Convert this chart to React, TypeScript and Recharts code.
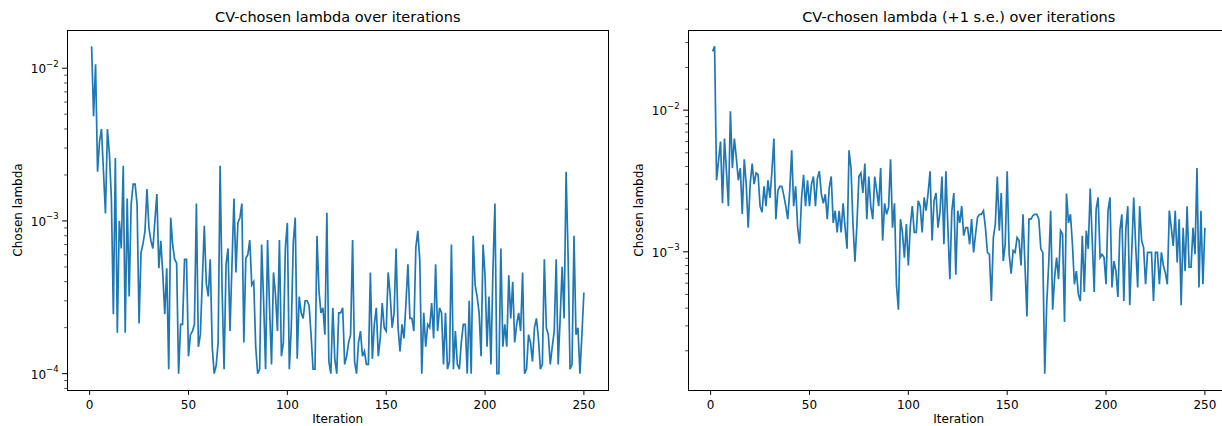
import React from 'react';
import { LineChart, Line, XAxis, YAxis } from 'recharts';

// CV-chosen lambda (minimum CV error), iterations 1..250
const lambdaMin: number[] = [
  0.0139, 0.00485, 0.0106, 0.0021, 0.0033, 0.004, 0.0021, 0.00112, 0.004, 0.00275,
  0.0014, 0.000245, 0.00258, 0.000185, 0.001, 0.00066, 0.0023, 0.000185, 0.0014, 0.00032,
  0.00128, 0.00174, 0.00174, 0.00128, 0.000213, 0.00062, 0.00071, 0.00086, 0.00162, 0.0009,
  0.00074, 0.00066, 0.001, 0.0015, 0.00049, 0.00074, 0.00045, 0.000245, 0.00049, 0.000107,
  0.00105, 0.0007, 0.00056, 0.00053, 0.0001, 0.00021, 0.00021, 0.00056, 0.00056, 0.00013,
  0.00018,
  0.00019, 0.00021, 0.0013, 0.00015, 0.00018, 0.00041, 0.00093, 0.00039, 0.00032, 0.00056,
  0.00015, 0.0001, 0.000113, 0.00016, 0.0023, 0.00035, 0.000107, 0.00052, 0.00066, 0.00019,
  0.00052, 0.0014, 0.00046, 0.00097, 0.00105, 0.0013, 0.00016, 0.00057, 0.0006, 0.00075,
  0.00038, 0.0004, 0.00015, 0.0001, 0.000107, 0.0007, 0.0003, 0.000107, 0.00075, 0.00027,
  0.000115, 0.00046, 0.00033, 0.00019, 0.00075, 0.00013, 0.00016, 0.00067, 0.00097, 0.000107,
  0.0002, 0.00072, 0.00105,
  0.000125, 0.00032, 0.00025, 0.00023, 0.0003, 0.0003, 0.00028, 0.00018, 0.000107, 0.000107,
  0.0008, 0.00035, 0.00025, 0.00027, 0.00018, 0.00113, 0.00012, 0.0001, 0.00027, 0.000125,
  0.0001, 0.00025, 0.00025, 0.00027, 0.000115, 0.00013, 0.00016, 0.00018, 0.00075, 0.00012,
  0.0001, 0.00016, 0.00019, 0.00013, 0.00014, 0.000115, 0.000115, 0.00046, 0.000125, 0.00021,
  0.00027, 0.00013, 0.00017, 0.00029, 0.0002, 0.00019, 0.00046, 0.00033, 0.0002, 0.00025,
  0.00066, 0.0002, 0.00014,
  0.00021, 0.00017, 0.00029, 0.00052, 0.00023, 0.00023, 0.00019, 0.00067, 0.00086, 0.00055,
  0.0001, 0.00025, 0.00015, 0.00021, 0.0002, 0.00029, 0.00017, 0.00052, 0.00019, 0.00027,
  0.00025, 0.000115, 0.00025, 0.000107, 0.00012, 0.0007, 0.000107, 0.00019, 0.000115, 0.000107,
  0.00016, 0.00021, 0.00021, 0.0001, 0.0003, 0.0001, 0.0008, 0.00038, 0.00032, 0.00025,
  0.00013, 0.0007, 0.00044, 0.00015, 0.00032, 0.000115, 0.00048, 0.0013, 0.0001, 0.0001,
  0.00066, 0.00015, 0.00021,
  0.00015, 0.00044, 0.00023, 0.0004, 0.00016, 0.00021, 0.00025, 0.00019, 0.00046, 0.0001,
  0.000107, 0.00018, 0.00016, 0.00012, 0.0002, 0.00023, 0.00017, 0.000107, 0.000115, 0.00056,
  0.0002, 0.00018, 0.000115, 0.00015, 0.00019, 0.00056, 0.000115, 0.00023, 0.0005, 0.00023,
  0.0021, 0.0006, 0.000107, 0.000115, 0.0008, 0.00018, 0.0002, 0.0001, 0.00018, 0.00034,
];

// CV-chosen lambda (+1 s.e. rule), iterations 1..250
const lambda1se: number[] = [
  0.026, 0.0282, 0.0032, 0.0044, 0.006, 0.0022, 0.0063, 0.0037, 0.0021, 0.0098,
  0.0039, 0.0063, 0.0046, 0.0032, 0.0039, 0.00185, 0.0045, 0.003, 0.00148, 0.003,
  0.0042, 0.003, 0.0036, 0.0035, 0.0021, 0.0019, 0.0029, 0.0021, 0.0032, 0.0024,
  0.0037, 0.0063, 0.0017, 0.0027, 0.0029, 0.0029, 0.0025, 0.0021, 0.0017, 0.0027,
  0.0052, 0.0021, 0.0029, 0.0015, 0.00114, 0.0024, 0.0035, 0.0021, 0.0032, 0.0021,
  0.003, 0.0034, 0.0021, 0.0033, 0.0037, 0.00255, 0.0022, 0.00255, 0.0017, 0.00284,
  0.0034, 0.0016, 0.00195, 0.00137, 0.00195, 0.00137, 0.0022, 0.00148, 0.00105, 0.0052,
  0.0039, 0.00157, 0.00085, 0.00157, 0.0034, 0.0036, 0.0026, 0.0042, 0.0017, 0.0034,
  0.0021, 0.0017, 0.0034, 0.0027, 0.0021, 0.0039, 0.0012, 0.0022, 0.00184, 0.00205,
  0.0045, 0.00148, 0.0022, 0.00058, 0.00039, 0.0017, 0.00137, 0.00091, 0.00157, 0.0008,
  0.00152, 0.0021, 0.00137,
  0.00137, 0.00229, 0.0021, 0.00137, 0.00242, 0.00195, 0.0026, 0.0037, 0.0012, 0.00229,
  0.0026, 0.00148, 0.00189, 0.0034, 0.00113, 0.0037, 0.00148, 0.00064, 0.00195, 0.0026,
  0.00069, 0.00195, 0.0016, 0.0021, 0.0013, 0.00148, 0.00148, 0.00113, 0.0017, 0.00099,
  0.00133, 0.00175, 0.00184, 0.00184, 0.00195, 0.00148, 0.00099, 0.00096, 0.00045, 0.00126,
  0.00157, 0.0034, 0.00141, 0.0026, 0.00086, 0.00113, 0.0037, 0.00096, 0.0007, 0.00102,
  0.00099, 0.00126, 0.0012,
  0.0008, 0.00184, 0.0008, 0.00035, 0.0017, 0.0017, 0.0018, 0.00184, 0.00184, 0.0017,
  0.00105, 0.00099, 0.000138, 0.00043, 0.00082, 0.00195, 0.00039, 0.00066, 0.00091, 0.00064,
  0.00141, 0.00133, 0.00032, 0.00258, 0.0016, 0.00184, 0.00113, 0.00059, 0.00073, 0.0005,
  0.00045, 0.0013, 0.00052, 0.00141, 0.00105, 0.0028, 0.00123, 0.00052, 0.002, 0.00242,
  0.00091, 0.00096, 0.00091, 0.00059, 0.00195, 0.00242, 0.00056, 0.00086, 0.00073, 0.00048,
  0.00141, 0.00184, 0.00045, 0.00144,
  0.0021, 0.00042, 0.001, 0.00242, 0.0011, 0.00056, 0.0021, 0.0012, 0.00107, 0.00059,
  0.00099, 0.00099, 0.00099, 0.00045, 0.00099, 0.00099, 0.00059, 0.00099, 0.0008, 0.00071,
  0.00059, 0.00195, 0.00148, 0.0011, 0.00195, 0.00084, 0.0017, 0.00042, 0.00148, 0.00073,
  0.0021, 0.00078, 0.00078, 0.00148, 0.00096, 0.0039, 0.00056, 0.00195, 0.00059, 0.00148,
];

const xTicks: number[] = [0, 50, 100, 150, 200, 250];
const titles: string[] = ['CV-chosen lambda over iterations', 'CV-chosen lambda (+1 s.e.) over iterations'];
const xLabel = 'Iteration';
const yLabel = 'Chosen lambda';

const FONT = '"DejaVu Sans", sans-serif';
const BLUE = '#1f77b4';
const CHART_W = 622;
const CHART_H = 426;
const PLOT_LEFT = 67;
const PLOT_RIGHT = 608.5;
const PLOT_TOP = 30;
const PLOT_BOTTOM = 390;
const Y_AXIS_W = 60;
const X_AXIS_H = CHART_H - PLOT_BOTTOM;

function logDomain(vals: number[]): [number, number] {
  const lo = Math.log10(Math.min(...vals));
  const hi = Math.log10(Math.max(...vals));
  const m = (hi - lo) * 0.05;
  return [Math.pow(10, lo - m), Math.pow(10, hi + m)];
}

function logTicks(dom: [number, number]): number[] {
  const out: number[] = [];
  const d0 = Math.floor(Math.log10(dom[0]));
  const d1 = Math.ceil(Math.log10(dom[1]));
  for (let d = d0; d <= d1; d++) {
    for (let k = 1; k <= 9; k++) {
      const v = k * Math.pow(10, d);
      if (v >= dom[0] && v <= dom[1]) out.push(v);
    }
  }
  return out;
}

const xDomain: [number, number] = [1 - 0.05 * 249, 250 + 0.05 * 249];

const XTick = (props: any) => {
  const { x, payload } = props;
  return (
    <g>
      <line x1={x} x2={x} y1={PLOT_BOTTOM} y2={PLOT_BOTTOM + 4.9} stroke="#000" strokeWidth={1} />
      <text x={x} y={PLOT_BOTTOM + 19} textAnchor="middle" fontFamily={FONT} fontSize={12} fill="#000">
        {payload.value}
      </text>
    </g>
  );
};

const YTick = (props: any) => {
  const { y, payload } = props;
  const v: number = payload.value;
  const lg = Math.log10(v);
  const e = Math.round(lg);
  const major = Math.abs(lg - e) < 1e-6;
  const ax = PLOT_LEFT;
  return (
    <g>
      <line x1={ax - (major ? 4.9 : 2.8)} x2={ax} y1={y} y2={y} stroke="#000" strokeWidth={major ? 1 : 0.7} />
      {major && (
        <text x={ax - 8.4} y={y + 5} textAnchor="end" fontFamily={FONT} fontSize={12} fill="#000">
          <tspan>10</tspan>
          <tspan dy={-6.5} fontSize={8.5}>{'\u2212' + String(-e)}</tspan>
        </text>
      )}
    </g>
  );
};

function Panel({ values, title, left }: { values: number[]; title: string; left: number }) {
  const data = values.map((v, i) => ({ iter: i + 1, value: v }));
  const yDom = logDomain(values);
  const yTicks = logTicks(yDom);
  const cx = left + (PLOT_LEFT + PLOT_RIGHT) / 2;
  return (
    <>
      <div style={{ position: 'absolute', left, top: 0 }}>
        <LineChart
          width={CHART_W}
          height={CHART_H}
          data={data}
          margin={{ top: PLOT_TOP, left: PLOT_LEFT - Y_AXIS_W, right: CHART_W - PLOT_RIGHT, bottom: 0 }}
        >
          <XAxis
            dataKey="iter"
            type="number"
            domain={xDomain}
            allowDataOverflow
            ticks={xTicks}
            interval={0}
            height={X_AXIS_H}
            tickLine={false}
            tick={(p: any) => <XTick {...p} />}
            axisLine={false}
          />
          <YAxis
            scale="log"
            type="number"
            domain={yDom}
            allowDataOverflow
            ticks={yTicks}
            interval={0}
            width={Y_AXIS_W}
            tickLine={false}
            tick={(p: any) => <YTick {...p} />}
            axisLine={false}
          />
          <Line
            type="linear"
            dataKey="value"
            stroke={BLUE}
            strokeWidth={1.7}
            dot={false}
            activeDot={false}
            isAnimationActive={false}
          />
        </LineChart>
      </div>
      <div
        style={{
          position: 'absolute', left: left + PLOT_LEFT - 0.5, top: PLOT_TOP - 0.5,
          width: PLOT_RIGHT - PLOT_LEFT + 1, height: PLOT_BOTTOM - PLOT_TOP + 1,
          boxSizing: 'border-box', border: '1px solid #000', pointerEvents: 'none',
        }}
      />
      <div
        style={{
          position: 'absolute', left: cx, top: 17, transform: 'translate(-50%, -50%)',
          whiteSpace: 'nowrap', fontFamily: FONT, fontSize: 14.5, color: '#000', lineHeight: 1,
        }}
      >
        {title}
      </div>
      <div
        style={{
          position: 'absolute', left: cx, top: 419, transform: 'translate(-50%, -50%)',
          whiteSpace: 'nowrap', fontFamily: FONT, fontSize: 12, color: '#000', lineHeight: 1,
        }}
      >
        {xLabel}
      </div>
      <div
        style={{
          position: 'absolute', left: left + 18, top: (PLOT_TOP + PLOT_BOTTOM) / 2,
          transform: 'translate(-50%, -50%) rotate(-90deg)',
          whiteSpace: 'nowrap', fontFamily: FONT, fontSize: 12, color: '#000', lineHeight: 1,
        }}
      >
        {yLabel}
      </div>
    </>
  );
}

export default function App() {
  return (
    <div
      style={{
        position: 'fixed', left: 0, top: 0, width: 1222, height: 426,
        overflow: 'hidden', background: '#fff',
      }}
    >
      <Panel values={lambdaMin} title={titles[0]} left={0} />
      <Panel values={lambda1se} title={titles[1]} left={621} />
    </div>
  );
}
